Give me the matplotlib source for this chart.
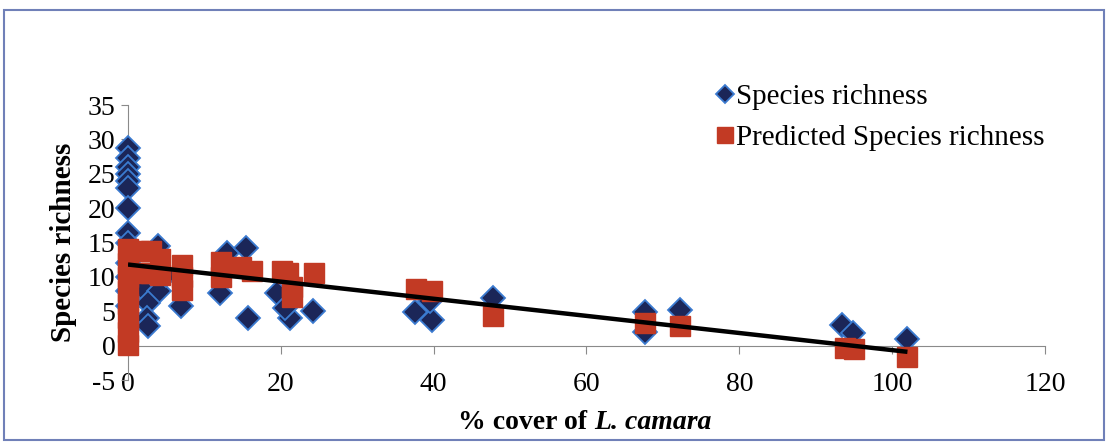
import matplotlib
matplotlib.use("Agg")
from matplotlib import pyplot as plt
from matplotlib.patches import Rectangle

plt.rcParams['font.family'] = ['Liberation Serif', 'DejaVu Serif']
plt.rcParams['axes.unicode_minus'] = False

obs_x = [0, 0, 0, 0, 0, 0, 0, 0, 0, 0, 0, 0, 0,
         1.8, 4.0, 2.6, 2.5, 2.6, 3.9, 5.0, 7.0, 12.0, 13.0, 15.5, 15.7,
         19.5, 21.2, 20.5, 24.2, 37.6, 39.8, 39.5, 47.8,
         67.7, 67.7, 72.3, 93.5, 94.9, 102.0]
obs_y = [28.8, 27.3, 26.0, 25.0, 24.0, 23.0, 20.0, 16.4, 15.0, 12.0, 10.0, 8.0, 5.8,
         8.4, 8.0, 6.2, 4.0, 2.8, 14.5, 10.3, 5.7, 7.7, 13.5, 14.2, 4.0,
         7.7, 4.0, 5.5, 5.0, 4.9, 3.8, 6.5, 7.0,
         4.9, 2.0, 5.2, 3.0, 1.9, 0.9]

# predicted species richness
pred_x = [0, 0, 0, 0, 0, 0, 0, 0,
          1.5, 3.0, 1.5, 3.0, 4.2, 4.2, 7.1, 7.1, 7.1,
          12.2, 12.2, 14.8, 16.2, 20.2, 21.0, 21.5, 21.5, 24.4,
          37.7, 39.8, 47.8, 67.7, 72.3, 93.8, 95.0, 102.0]
pred_y = [0.1, 2.0, 4.0, 6.0, 8.0, 10.0, 12.0, 14.0,
          13.8, 13.8, 10.5, 10.5, 12.6, 10.3, 11.8, 10.0, 8.1,
          12.2, 10.0, 11.5, 10.9, 10.8, 10.5, 8.5, 7.1, 10.5,
          8.3, 8.0, 4.3, 3.3, 2.8, -0.3, -0.5, -1.6]

# linear trend line
trend_x = [0, 102]
intercept = 11.8
slope = -0.1245

fig = plt.figure(figsize=(11.11, 4.45), dpi=100)
ax = fig.add_axes([0.1152, 0.146, 0.8254, 0.618])

ax.plot(obs_x, obs_y, linestyle="none", marker="D", markersize=12,
        markerfacecolor="#1b2658", markeredgecolor="#3b7bd0", markeredgewidth=1.3,
        clip_on=False, label="Species richness", zorder=3)
ax.plot(pred_x, pred_y, linestyle="none", marker="s", markersize=14.5,
        markerfacecolor="#c23a24", markeredgecolor="#c23a24",
        clip_on=False, label="Predicted Species richness", zorder=4)
ax.plot(trend_x, [intercept + slope * x for x in trend_x], color="black", lw=3.2,
        zorder=5, solid_capstyle="butt")

ax.set_xlim(0, 120)
ax.set_ylim(-5, 35)
ax.set_xticks(range(0, 121, 20))
ax.set_yticks(range(-5, 36, 5))

for s in ["top", "right"]:
    ax.spines[s].set_visible(False)
ax.spines["bottom"].set_position(("data", 0))
ax.spines["bottom"].set_color("#8a8a8a")
ax.spines["left"].set_color("#8a8a8a")
ax.tick_params(axis="x", direction="out", length=6, color="#8a8a8a", pad=13,
               labelsize=20)
ax.tick_params(axis="y", direction="out", length=5, color="#8a8a8a", pad=4,
               labelsize=20)

ax.set_ylabel("Species richness", fontsize=21, fontweight="bold", labelpad=8)

t1 = fig.text(0.535, 0.035, "% cover of ", fontsize=20, fontweight="bold",
              ha="right", va="baseline")
ax.annotate("L. camara", xy=(1, 0), xycoords=t1, fontsize=20, fontweight="bold",
            fontstyle="italic", va="bottom", ha="left")

ax.legend(loc="upper left", bbox_to_anchor=(0.622, 1.12), frameon=False,
          fontsize=21, handletextpad=-0.1, labelspacing=0.5, markerscale=0.8,
          handlelength=1.0, borderaxespad=0)

fig.patches.append(Rectangle((0.004, 0.012), 0.99, 0.965, transform=fig.transFigure,
                             fill=False, edgecolor="#7080b8", lw=1.5))

fig.savefig("out.png", dpi=100)
